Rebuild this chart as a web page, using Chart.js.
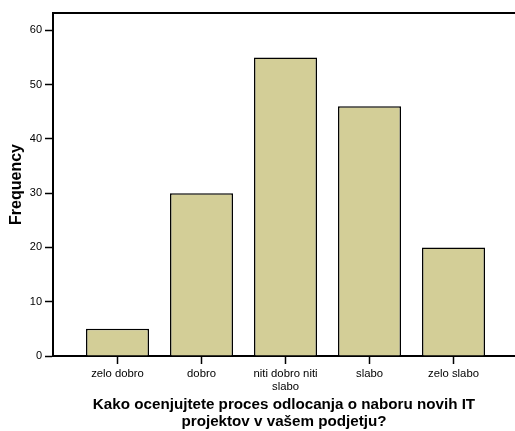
<!DOCTYPE html>
<html>
<head>
<meta charset="utf-8">
<script src="https://cdn.jsdelivr.net/npm/chart.js@4"></script>
<style>
  html, body { margin: 0; padding: 0; background: #fff; }
  #wrap { width: 515px; height: 431px; }
</style>
</head>
<body>
<div id="wrap"><canvas id="freq_chart" width="515" height="431"></canvas></div>
<script>
// answers and counts
const categories = ["zelo dobro", "dobro", ["niti dobro niti", "slabo"], "slabo", "zelo slabo"];
const frequencies = [5, 30, 55, 46, 20];
const yTicks = [0, 10, 20, 30, 40, 50, 60];

const xTitle = ["Kako ocenjujtete proces odlocanja o naboru novih IT", "projektov v vašem podjetju?"];
const yTitle = "Frequency";

const barFill = "#d3ce97";

// top line of the plot frame (left and bottom come from the axes)
const frameTop = {
  id: 'frameTop',
  afterDraw(chart) {
    const ctx = chart.ctx;
    const a = chart.chartArea;
    ctx.save();
    ctx.strokeStyle = "#000";
    ctx.lineWidth = 2;
    ctx.beginPath();
    ctx.moveTo(a.left - 1, a.top);
    ctx.lineTo(a.right, a.top);
    ctx.stroke();
    ctx.restore();
  }
};

let ctx = document.getElementById('freq_chart');
let freqChart = new Chart(ctx, {
  type: 'bar',
  data: {
    datasets: [{
      data: frequencies.map((v, i) => ({ x: i, y: v })),
      backgroundColor: barFill,
      borderColor: "#000",
      borderWidth: 1.5,
      barPercentage: 0.75,
      categoryPercentage: 1
    }]
  },
  options: {
    responsive: false,
    animation: false,
    layout: { padding: { top: 13, right: 0, left: 0, bottom: 0 } },
    plugins: {
      legend: { display: false },
      tooltip: { enabled: false }
    },
    scales: {
      x: {
        type: 'linear',
        offset: false,
        min: -0.768,
        max: 4.732,
        afterBuildTicks: (scale) => {
          scale.ticks = categories.map((c, i) => ({ value: i }));
        },
        afterFit: (scale) => { scale.height = 75; },
        border: { display: true, color: "#000", width: 2 },
        grid: { offset: false, drawOnChartArea: false, drawTicks: true, tickLength: 8, tickColor: "#000", tickWidth: 1.5 },
        ticks: {
          autoSkip: false,
          maxRotation: 0,
          padding: 3,
          color: "#000",
          font: { family: "Liberation Sans, Arial, sans-serif", size: 11.3, lineHeight: 1.15 },
          callback: (v) => categories[v]
        },
        title: {
          display: true,
          text: xTitle,
          color: "#000",
          padding: { top: 4, bottom: 0 },
          font: { family: "Liberation Sans, Arial, sans-serif", size: 15.2, weight: 'bold', lineHeight: 1.15 }
        }
      },
      y: {
        min: 0,
        max: 63.2,
        afterBuildTicks: (scale) => {
          scale.ticks = yTicks.map(v => ({ value: v }));
        },
        afterFit: (scale) => { scale.width = 53; },
        border: { display: true, color: "#000", width: 2 },
        grid: { drawOnChartArea: false, drawTicks: true, tickLength: 8, tickColor: "#000", tickWidth: 1.5 },
        ticks: {
          padding: 3,
          color: "#000",
          font: { family: "Liberation Sans, Arial, sans-serif", size: 11 }
        },
        title: {
          display: true,
          text: yTitle,
          color: "#000",
          padding: { top: 7, bottom: 2 },
          font: { family: "Liberation Sans, Arial, sans-serif", size: 16, weight: 'bold' }
        }
      }
    }
  },
  plugins: [frameTop]
});
</script>
</body>
</html>
